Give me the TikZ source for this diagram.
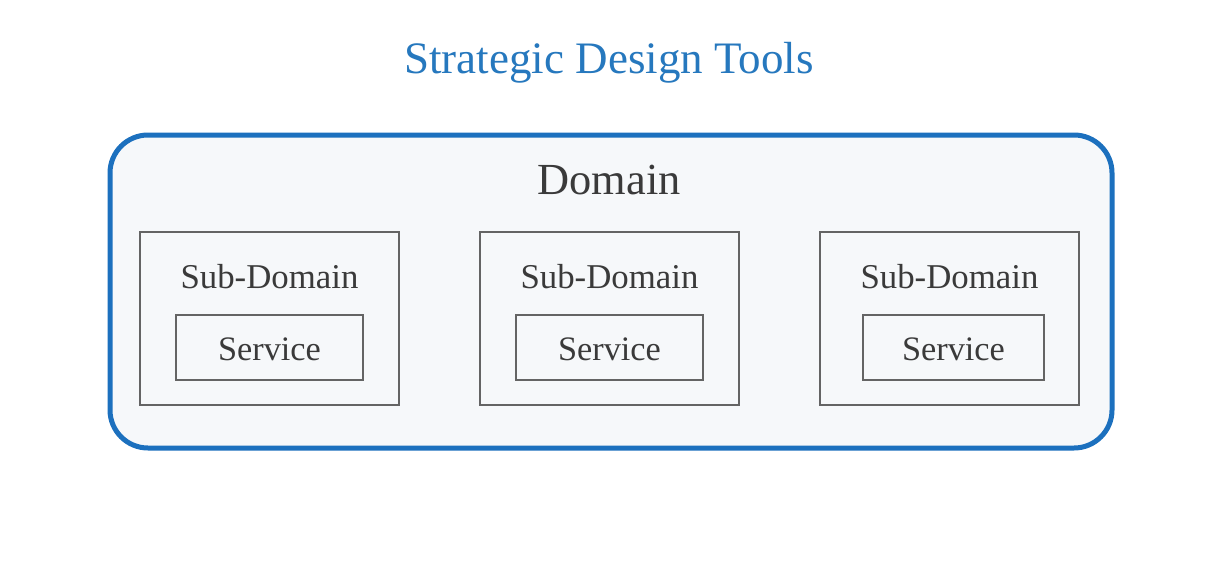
\documentclass[tikz,border=0pt]{standalone}
\usepackage{fontspec}
\setmainfont{Liberation Serif}
\usepackage{tikz}
\usetikzlibrary{positioning}

\definecolor{titleblue}{RGB}{38,120,190}
\definecolor{domainblue}{RGB}{28,112,190}
\definecolor{boxgray}{RGB}{100,100,100}
\definecolor{textgray}{RGB}{58,58,58}
\definecolor{panel}{RGB}{246,248,250}

\tikzset{
  domainbox/.style={draw=domainblue,line width=5pt,fill=panel,rounded corners=38pt,
    minimum width=1002pt,minimum height=313pt,inner sep=0pt},
  subbox/.style={draw=boxgray,line width=2pt,minimum width=259pt,minimum height=173pt,inner sep=0pt},
  servicebox/.style={draw=boxgray,line width=2pt,minimum height=65pt,inner sep=0pt},
  subtext/.style={text=textgray,anchor=base,inner sep=0pt,font=\fontsize{34.8}{40}\selectfont},
  servicetext/.style={text=textgray,anchor=base,inner sep=0pt,font=\fontsize{34.3}{40}\selectfont}
}

\begin{document}
\begin{tikzpicture}[x=1pt,y=-1pt]
  \useasboundingbox[fill=white] (0,0) rectangle (1228,568);

  % Title
  \node[text=titleblue,anchor=base,inner sep=0pt,font=\fontsize{45}{52}\selectfont]
    (title) at (609,73) {Strategic Design Tools};

  % Domain
  \node[domainbox] (domain) at (611,291.5) {};
  \node[text=textgray,anchor=base,inner sep=0pt,font=\fontsize{44.4}{50}\selectfont]
    (domaintext) at (609,194) {Domain};

  % Sub-Domains with their services
  \foreach \i/\sx/\vx/\vw in {1/269.5/269.5/187, 2/609.5/609.5/187, 3/949.5/953.5/181} {
    \node[subbox] (sub\i) at (\sx,318.5) {};
    \node[subtext] (subtext\i) at (\sx,288) {Sub-Domain};
    \node[servicebox,minimum width=\vw pt] (service\i) at (\vx,347.5) {};
    \node[servicetext] (servicetext\i) at (\vx,360) {Service};
  }
\end{tikzpicture}
\end{document}
